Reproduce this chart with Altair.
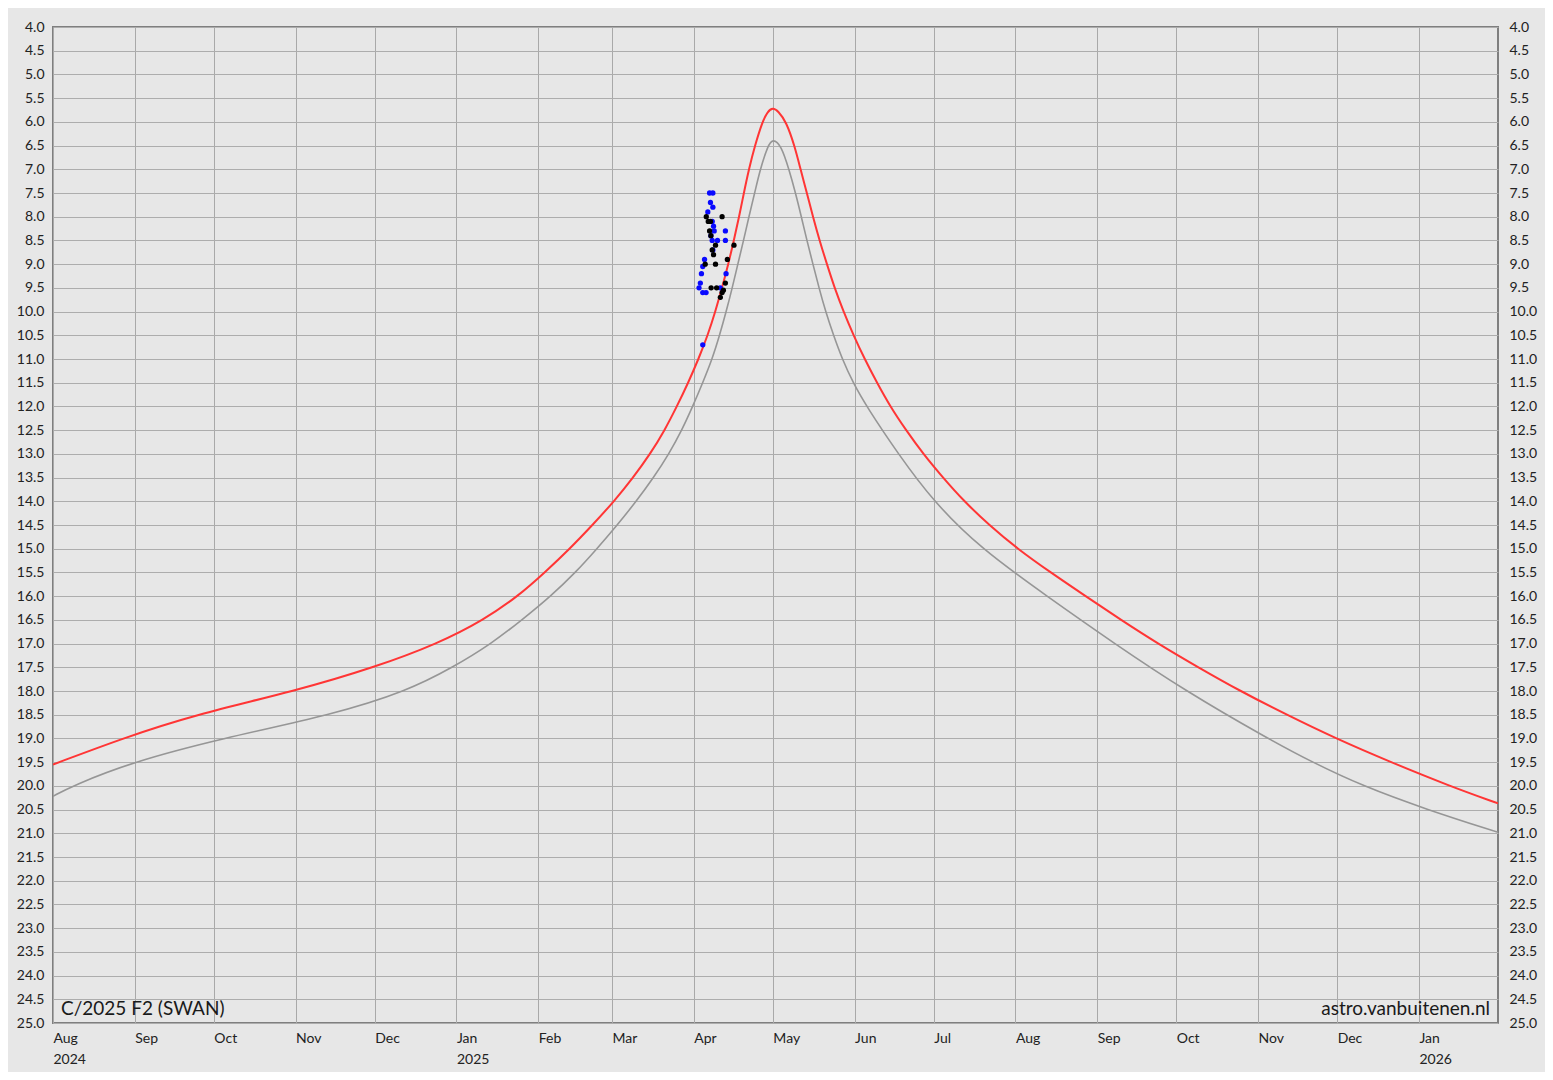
import altair as alt
import pandas as pd

# ---------------- data ----------------
# Curves: days after 2024-08-01 and magnitude
start_date = "2024-08-01"

red_days = [
    0, 26.2, 53.8, 91.9, 122, 146, 163.4, 176.4, 186.5, 196, 204.6, 212.8,
    220.0, 226.5, 232.0, 236.6, 240.9, 244.8, 248.3, 251.2, 253.7, 256.1, 258.2, 260.2,
    262.0, 263.9, 266.2, 269.0, 271.0, 273.0, 275.0, 278.1, 281.2, 283.5, 285.9, 288.2,
    290.7, 293.5, 296.4, 299.8, 303.6, 307.8, 312.5, 317.5, 323.5, 330, 337.5, 345.5,
    355, 365.7, 378.3, 391.6, 405, 419, 434.3, 450.2, 467.8, 486.4, 507.3, 529.5, 548,
]
red_mags = [
    19.55, 19.0, 18.5, 18.0, 17.5, 17.0, 16.5, 16.0, 15.5, 15.0, 14.5, 14.0,
    13.5, 13.0, 12.5, 12.0, 11.5, 11.0, 10.5, 10.0, 9.5, 9.0, 8.5, 8.0,
    7.5, 7.0, 6.5, 6.0, 5.78, 5.70, 5.77, 6.0, 6.5, 7.0, 7.5, 8.0,
    8.5, 9.0, 9.5, 10.0, 10.5, 11.0, 11.5, 12.0, 12.5, 13.0, 13.5, 14.0,
    14.5, 15.0, 15.5, 16.0, 16.5, 17.0, 17.5, 18.0, 18.5, 19.0, 19.5, 20.0, 20.37,
]

gray_days = [
    0, 7.3, 29.8, 63.9, 106, 134.3, 151.7, 166.3, 177.9, 188.8, 198.2, 206.3,
    214.0, 221.2, 227.8, 233.6, 238.5, 242.6, 246.4, 250, 252.8, 255.3, 257.6, 259.7,
    261.9, 263.9, 266.1, 268.2, 271.1, 273, 276.2, 279.1, 281.6, 283.8, 285.9, 288.2,
    290.5, 293, 296, 299.3, 303.4, 308.5, 320.5, 333.8, 351.9, 376.9, 402.5, 429.5,
    460.6, 477.5, 496.5, 521, 548,
]
gray_mags = [
    20.22, 20.0, 19.5, 19.0, 18.5, 18.0, 17.5, 17.0, 16.5, 16.0, 15.5, 15.0,
    14.5, 14.0, 13.5, 13.0, 12.5, 12.0, 11.5, 11.0, 10.5, 10.0, 9.5, 9.0,
    8.5, 8.0, 7.5, 7.0, 6.5, 6.35, 6.5, 7.0, 7.5, 8.0, 8.5, 9.0,
    9.5, 10.0, 10.5, 11.0, 11.5, 12.0, 13.0, 14.0, 15.0, 16.0, 17.0, 18.0,
    19.0, 19.5, 20.0, 20.5, 20.98,
]

# Observations
blue_dates = [
    "2025-04-07T00:00Z", "2025-04-08T06:00Z", "2025-04-07T08:00Z", "2025-04-08T06:00Z",
    "2025-04-06T08:00Z", "2025-04-08T00:00Z", "2025-04-08T12:00Z", "2025-04-08T18:00Z",
    "2025-04-13T00:00Z", "2025-04-07T12:00Z", "2025-04-08T00:00Z", "2025-04-10T00:00Z",
    "2025-04-13T00:00Z", "2025-04-08T06:00Z", "2025-04-05T02:00Z", "2025-04-04T10:00Z",
    "2025-04-03T22:00Z", "2025-04-13T06:00Z", "2025-04-03T12:00Z", "2025-04-03T00:00Z",
    "2025-04-04T10:00Z", "2025-04-05T16:00Z", "2025-04-11T00:00Z", "2025-04-04T10:00Z",
]
blue_mags = [
    7.5, 7.5, 7.7, 7.8,
    7.9, 8.1, 8.2, 8.3,
    8.3, 8.4, 8.5, 8.5,
    8.5, 8.7, 8.9, 9.05,
    9.2, 9.2, 9.4, 9.5,
    9.6, 9.6, 9.5, 10.7,
]

black_dates = [
    "2025-04-11T18:00Z", "2025-04-05T18:00Z", "2025-04-06T12:00Z", "2025-04-07T08:00Z",
    "2025-04-07T00:00Z", "2025-04-07T12:00Z", "2025-04-09T06:00Z", "2025-04-16T06:00Z",
    "2025-04-08T00:00Z", "2025-04-08T12:00Z", "2025-04-09T06:00Z", "2025-04-05T08:00Z",
    "2025-04-13T18:00Z", "2025-04-13T00:00Z", "2025-04-07T14:00Z", "2025-04-09T16:00Z",
    "2025-04-11T18:00Z", "2025-04-11T02:00Z", "2025-04-12T06:00Z",
]
black_mags = [
    8.0, 8.0, 8.1, 8.1,
    8.3, 8.4, 8.6, 8.6,
    8.7, 8.8, 9.0, 9.0,
    8.9, 9.4, 9.5, 9.5,
    9.6, 9.7, 9.55,
]

y_ticks = [
    4.0, 4.5, 5.0, 5.5, 6.0, 6.5, 7.0, 7.5, 8.0, 8.5, 9.0, 9.5, 10.0, 10.5,
    11.0, 11.5, 12.0, 12.5, 13.0, 13.5, 14.0, 14.5, 15.0, 15.5, 16.0, 16.5,
    17.0, 17.5, 18.0, 18.5, 19.0, 19.5, 20.0, 20.5, 21.0, 21.5, 22.0, 22.5,
    23.0, 23.5, 24.0, 24.5, 25.0,
]

title_text = "C/2025 F2 (SWAN)"
credit_text = "astro.vanbuitenen.nl"

# ---------------- chart ----------------
FONT = "Lato"
BG = "#e7e7e7"


def to_utc_strings(days):
    ts = pd.Timestamp(start_date) + pd.to_timedelta(days, unit="D")
    return ts.strftime("%Y-%m-%dT%H:%M:%SZ").tolist()


red_df = pd.DataFrame({"date": to_utc_strings(red_days), "mag": red_mags})
gray_df = pd.DataFrame({"date": to_utc_strings(gray_days), "mag": gray_mags})
blue_df = pd.DataFrame({"date": blue_dates, "mag": blue_mags})
black_df = pd.DataFrame({"date": black_dates, "mag": black_mags})

x_scale = alt.Scale(
    type="utc",
    domain=[alt.DateTime(year=2024, month=8, date=1, utc=True),
            alt.DateTime(year=2026, month=1, date=31, utc=True)],
    nice=False,
)
x_axis = alt.Axis(
    title=None,
    tickCount={"interval": "month", "step": 1},
    labelExpr="(utcmonth(datum.value) == 0 || (utcmonth(datum.value) == 7 && utcyear(datum.value) == 2024)) ? "
              "[utcFormat(datum.value, '%b'), ' ' + utcFormat(datum.value, '%Y')] : "
              "utcFormat(datum.value, '%b')",
    labelAlign="left",
    labelBaseline="top",
    labelPadding=8,
    labelLineHeight=21,
    labelFlush=False,
    labelOverlap=False,
    ticks=False,
    domain=False,
    grid=True,
    gridColor="#a9a9a9",
    gridWidth=1,
)
X = alt.X("date:T", scale=x_scale, axis=x_axis)

y_scale = alt.Scale(domain=[4, 25], reverse=True, nice=False, zero=False)
left_axis = alt.Axis(
    title=None, orient="left", values=y_ticks, format=".1f", ticks=False, domain=False,
    grid=True, gridColor="#adadad", gridWidth=1, labelPadding=9,
)
right_axis = alt.Axis(
    title=None, orient="right", values=y_ticks, format=".1f", ticks=False, domain=False,
    grid=False, labelPadding=11,
)

red = alt.Chart(red_df).mark_line(
    color="#ff3535", strokeWidth=2, interpolate="basis", clip=True
).encode(x=X, y=alt.Y("mag:Q", scale=y_scale, axis=left_axis))

gray = alt.Chart(gray_df).mark_line(
    color="#969696", strokeWidth=1.6, interpolate="basis", clip=True
).encode(x=X, y=alt.Y("mag:Q", scale=y_scale, axis=right_axis))

blue = alt.Chart(blue_df).mark_circle(color="#0a0aff", size=28, opacity=1).encode(
    x=X, y=alt.Y("mag:Q", scale=y_scale, axis=None)
)
black = alt.Chart(black_df).mark_circle(color="#000000", size=28, opacity=1).encode(
    x=X, y=alt.Y("mag:Q", scale=y_scale, axis=None)
)

title_mark = alt.Chart(pd.DataFrame({"t": [title_text]})).mark_text(
    align="left", baseline="alphabetic", fontSize=19, font=FONT, color="#1a1a1a"
).encode(x=alt.value(8), y=alt.value(988), text="t:N")

credit_mark = alt.Chart(pd.DataFrame({"t": [credit_text]})).mark_text(
    align="right", baseline="alphabetic", fontSize=19, font=FONT, color="#1a1a1a"
).encode(x=alt.value(1437), y=alt.value(988), text="t:N")

chart = alt.layer(red, gray, blue, black, title_mark, credit_mark).resolve_scale(
    y="independent"
).properties(
    width=1445,
    height=996,
    padding={"left": 45, "top": 19, "right": 47, "bottom": 49},
    autosize=alt.AutoSizeParams(type="none"),
).configure(
    background=BG,
).configure_view(
    stroke="#7f7f7f", strokeWidth=2, fill=BG,
).configure_axis(
    labelFont=FONT, labelFontSize=14, labelColor="#222222",
)

chart.save("out.html", embed_options={"renderer": "svg", "actions": False})
